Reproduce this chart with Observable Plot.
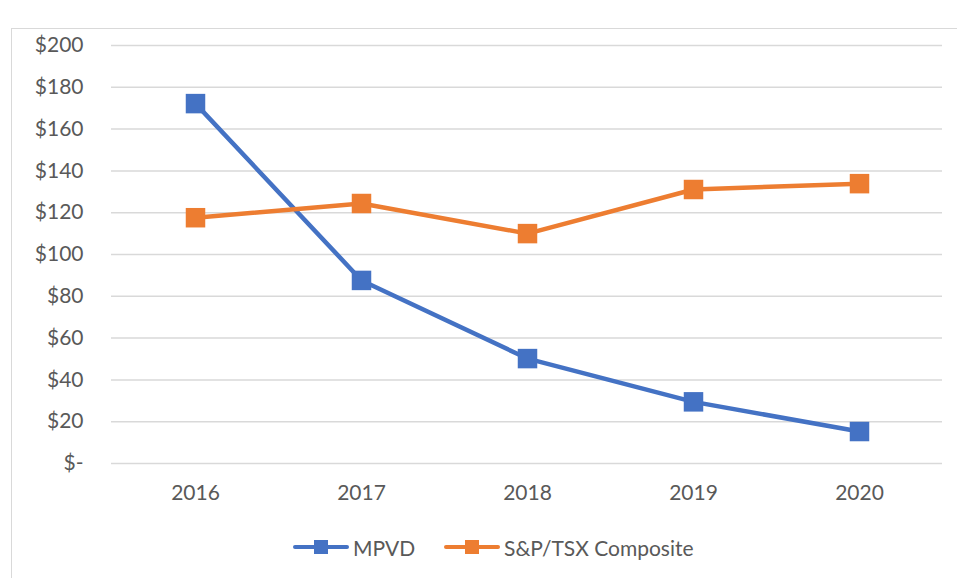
<!DOCTYPE html>
<html>
<head>
<meta charset="utf-8">
<script src="https://cdn.jsdelivr.net/npm/d3@7"></script>
<script src="https://cdn.jsdelivr.net/npm/@observablehq/plot@0.6"></script>
<style>
  html, body { margin: 0; padding: 0; background: #fff; }
  body { width: 957px; height: 578px; position: relative; overflow: hidden; font-family: Lato, "Open Sans", sans-serif; }
  #frame { position: absolute; left: 11px; top: 28px; width: 960px; height: 570px; border: 1px solid #d9d9d9; box-sizing: border-box; }
  #chart { position: absolute; left: 0; top: 0; }
  #legend { position: absolute; top: 535px; left: 0; width: 957px; height: 24px; font-size: 21px; color: #595959; }
  .item { position: absolute; top: 0; display: flex; align-items: center; height: 24px; }
  .sw { position: relative; width: 56px; height: 24px; margin-right: 4px; }
  .sw .ln { position: absolute; left: 0; right: 0; top: 10px; height: 4px; border-radius: 2px; }
  .sw .sq { position: absolute; left: 21px; top: 5px; width: 14px; height: 14px; }
</style>
</head>
<body>
<div id="frame"></div>
<div id="chart"></div>
<div id="legend"></div>
<script>
const years = ["2016", "2017", "2018", "2019", "2020"];
const mpvd = [172.2, 87.6, 50.2, 29.5, 15.3];
const tsx = [117.6, 124.4, 110.0, 131.1, 133.9];
const seriesNames = ["MPVD", "S&P/TSX Composite"];
const seriesColors = ["#4472C4", "#ED7D31"];
const yTicks = [0, 20, 40, 60, 80, 100, 120, 140, 160, 180, 200];

const data = [];
years.forEach((y, i) => {
  data.push({year: y, value: mpvd[i], series: seriesNames[0]});
  data.push({year: y, value: tsx[i], series: seriesNames[1]});
});

const chart = Plot.plot({
  width: 957,
  height: 510,
  marginLeft: 111,
  marginRight: 15,
  marginTop: 45,
  marginBottom: 47,
  style: { fontFamily: "Lato, 'Open Sans', sans-serif", fontSize: "21px", color: "#595959", background: "transparent" },
  x: { type: "band", domain: years, padding: 0, label: null },
  y: { domain: [0, 200], label: null },
  color: { domain: seriesNames, range: seriesColors },
  marks: [
    Plot.gridY(yTicks, { stroke: "#d9d9d9", strokeOpacity: 1, strokeWidth: 1.5 }),
    Plot.axisX({ tickSize: 0, tickPadding: 22, fontSize: 21 }),
    Plot.axisY(yTicks, { tickSize: 0, tickPadding: 28, fontSize: 21, tickFormat: d => d === 0 ? "$-" : "$" + d }),
    Plot.line(data, { x: "year", y: "value", z: "series", stroke: "series", strokeWidth: 4.5 }),
    Plot.dot(data, { x: "year", y: "value", fill: "series", symbol: "square", r: 11, stroke: null })
  ]
});
document.getElementById("chart").appendChild(chart);

const legend = document.getElementById("legend");
const lefts = [293, 444];
seriesNames.forEach((name, i) => {
  const it = document.createElement("div");
  it.className = "item";
  it.style.left = lefts[i] + "px";
  it.innerHTML = `<div class="sw"><div class="ln" style="background:${seriesColors[i]}"></div><div class="sq" style="background:${seriesColors[i]}"></div></div><span>${name}</span>`;
  legend.appendChild(it);
});
</script>
</body>
</html>
